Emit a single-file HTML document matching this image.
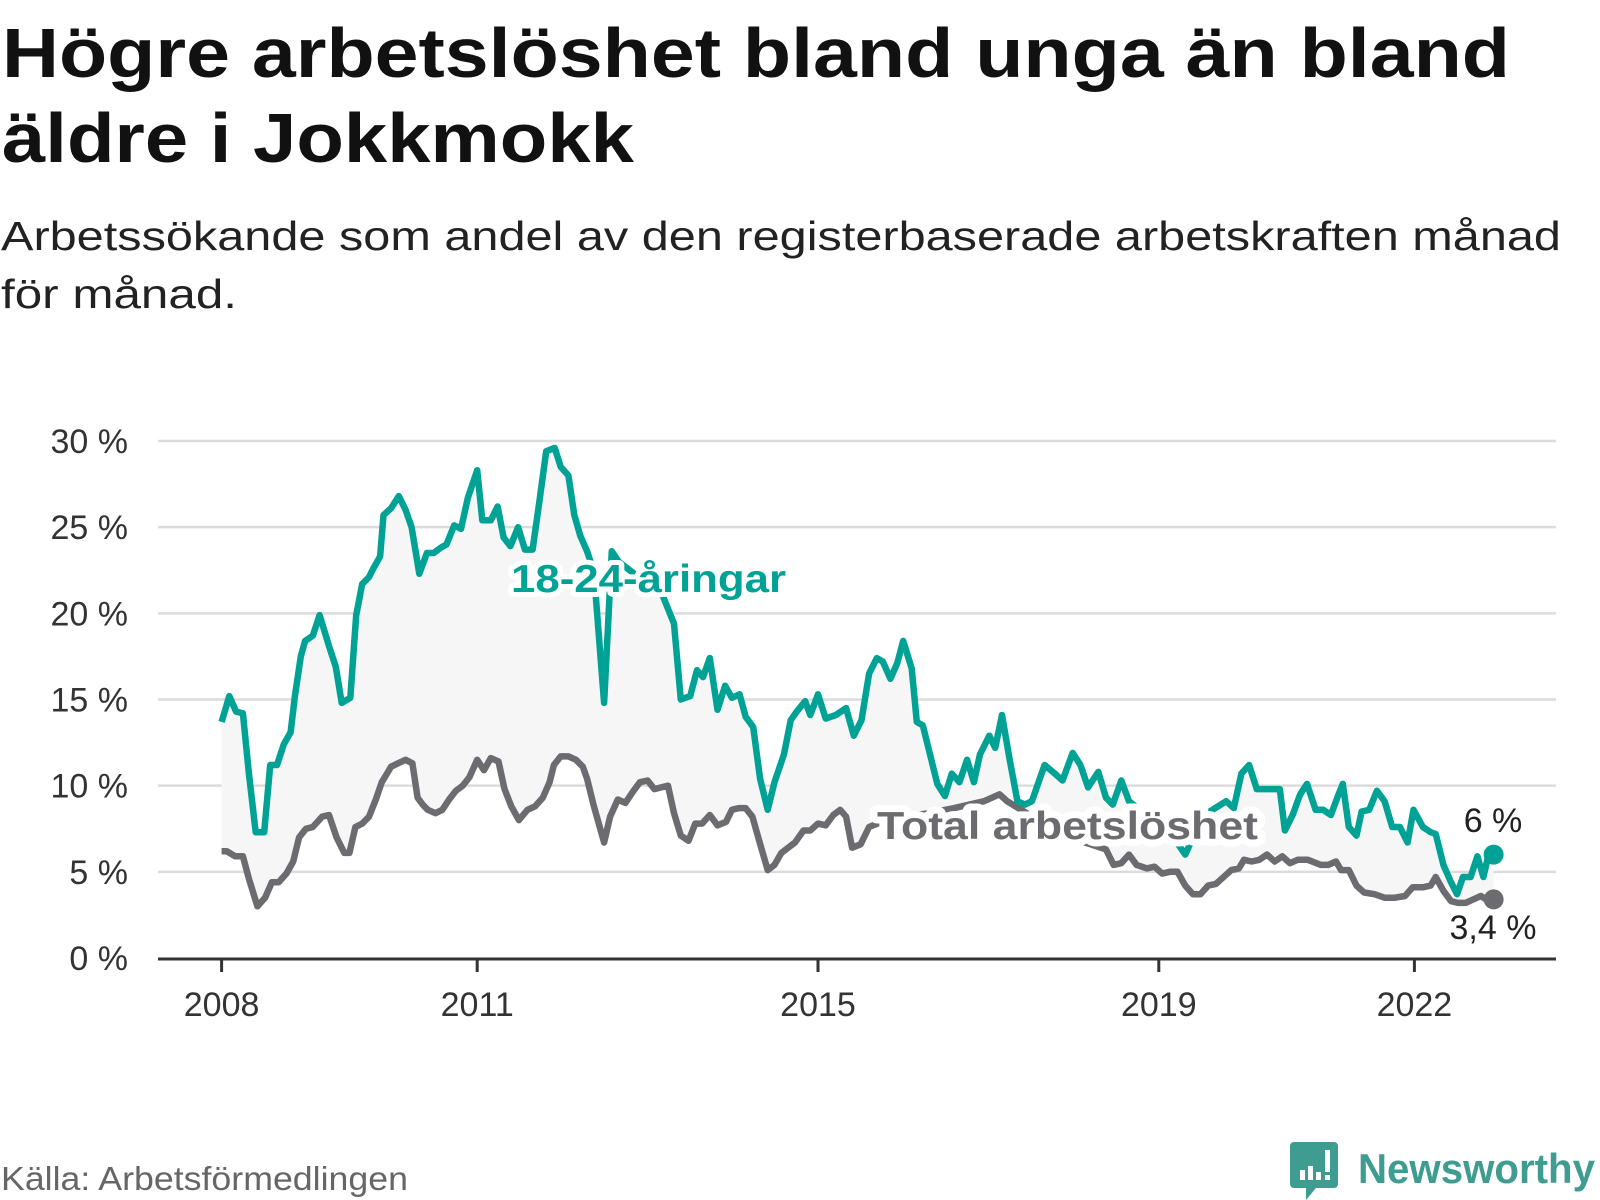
<!DOCTYPE html>
<html><head><meta charset="utf-8">
<style>
html,body{margin:0;padding:0;background:#fff;}
svg{display:block;font-family:"Liberation Sans",sans-serif;}
</style></head>
<body>
<svg id="chart" width="1600" height="1200" viewBox="0 0 1600 1200" xmlns="http://www.w3.org/2000/svg">
  <text x="2" y="77" font-size="70" font-weight="bold" fill="#111" textLength="1508" lengthAdjust="spacingAndGlyphs">Högre arbetslöshet bland unga än bland</text>
  <text x="2" y="162" font-size="70" font-weight="bold" fill="#111" textLength="632" lengthAdjust="spacingAndGlyphs">äldre i Jokkmokk</text>
  <text x="1" y="250" font-size="41" fill="#222" textLength="1560" lengthAdjust="spacingAndGlyphs">Arbetssökande som andel av den registerbaserade arbetskraften månad</text>
  <text x="1" y="308" font-size="41" fill="#222" textLength="236" lengthAdjust="spacingAndGlyphs">för månad.</text>
  <g id="grid"></g>
  <g id="yticks"></g>
  <g id="plot"></g>
  <g id="xaxis"></g>
  <g id="labels"></g>
  <text x="1" y="1190" font-size="33" fill="#666" textLength="407" lengthAdjust="spacingAndGlyphs">Källa: Arbetsförmedlingen</text>
  <g>
    <path d="M1294 1142 h40 a4 4 0 0 1 4 4 v38 a4 4 0 0 1 -4 4 h-18 l-10 12 v-12 h-12 a4 4 0 0 1 -4 -4 v-38 a4 4 0 0 1 4 -4z" fill="#3f9c90"/>
    <rect x="1300" y="1170" width="5" height="10" fill="#fff"/>
    <rect x="1308" y="1166" width="5" height="14" fill="#fff"/>
    <rect x="1316" y="1172" width="5" height="8" fill="#fff"/>
    <rect x="1325" y="1150" width="5" height="22" fill="#fff"/>
    <rect x="1325" y="1175" width="5" height="5" fill="#fff"/>
    <text x="1358" y="1183" font-size="42" font-weight="bold" fill="#3f9c90" textLength="237" lengthAdjust="spacingAndGlyphs">Newsworthy</text>
  </g>
</svg>
<script>
const yTicks = [0, 5, 10, 15, 20, 25, 30];
const yTickLabels = ["0 %", "5 %", "10 %", "15 %", "20 %", "25 %", "30 %"];
const xTicks = [2008, 2011, 2015, 2019, 2022];
const xTickLabels = ["2008", "2011", "2015", "2019", "2022"];

const youthTime = [2008.00,2008.09,2008.17,2008.25,2008.32,2008.40,2008.50,2008.57,2008.65,2008.73,2008.81,2008.86,2008.93,2008.98,2009.07,2009.15,2009.26,2009.34,2009.41,2009.51,2009.58,2009.65,2009.73,2009.78,2009.86,2009.90,2009.99,2010.08,2010.16,2010.23,2010.32,2010.41,2010.49,2010.57,2010.64,2010.73,2010.81,2010.89,2011.00,2011.06,2011.16,2011.24,2011.31,2011.39,2011.48,2011.56,2011.65,2011.73,2011.81,2011.91,2011.98,2012.07,2012.14,2012.21,2012.29,2012.37,2012.49,2012.58,2012.66,2012.92,2013.18,2013.31,2013.39,2013.50,2013.58,2013.65,2013.73,2013.82,2013.91,2013.99,2014.08,2014.15,2014.24,2014.32,2014.41,2014.49,2014.60,2014.68,2014.75,2014.85,2014.91,2015.00,2015.09,2015.21,2015.33,2015.42,2015.51,2015.60,2015.69,2015.76,2015.85,2015.93,2016.00,2016.10,2016.16,2016.23,2016.32,2016.40,2016.49,2016.57,2016.66,2016.75,2016.83,2016.90,2017.01,2017.08,2017.16,2017.25,2017.34,2017.43,2017.51,2017.66,2017.78,2017.87,2017.99,2018.08,2018.17,2018.29,2018.38,2018.46,2018.56,2018.65,2018.80,2019.00,2019.20,2019.31,2019.45,2019.60,2019.79,2019.88,2019.97,2020.06,2020.15,2020.24,2020.42,2020.48,2020.57,2020.66,2020.74,2020.84,2020.93,2021.02,2021.11,2021.16,2021.23,2021.32,2021.38,2021.47,2021.56,2021.65,2021.74,2021.83,2021.92,2021.99,2022.10,2022.19,2022.25,2022.34,2022.43,2022.50,2022.57,2022.66,2022.74,2022.81,2022.87,2022.93];
const youthValues = [13.7,15.2,14.3,14.2,10.7,7.3,7.3,11.2,11.2,12.4,13.1,15.2,17.5,18.4,18.7,19.9,18.1,16.9,14.8,15.1,19.9,21.7,22.1,22.6,23.3,25.7,26.1,26.8,26.0,25.0,22.3,23.5,23.5,23.8,24.0,25.1,24.9,26.7,28.3,25.4,25.4,26.2,24.4,23.9,25.0,23.7,23.7,26.5,29.4,29.6,28.5,28.0,25.7,24.5,23.6,22.4,14.8,23.6,23.0,22.0,21.0,19.4,15.0,15.2,16.7,16.3,17.4,14.4,15.8,15.1,15.3,14.0,13.4,10.4,8.6,10.2,11.8,13.8,14.3,14.9,14.1,15.3,13.9,14.1,14.5,12.9,13.8,16.5,17.4,17.2,16.2,17.1,18.4,16.8,13.7,13.5,11.7,10.1,9.4,10.7,10.2,11.5,10.2,11.8,12.9,12.2,14.1,11.5,9.1,8.9,9.1,11.2,10.7,10.3,11.9,11.2,9.9,10.8,9.3,8.9,10.3,9.1,8.5,7.8,6.8,6.0,7.5,8.5,9.1,8.7,10.7,11.2,9.8,9.8,9.8,7.4,8.3,9.5,10.1,8.6,8.6,8.3,9.5,10.1,7.6,7.1,8.5,8.6,9.7,9.1,7.6,7.6,6.7,8.6,7.6,7.3,7.2,5.4,4.4,3.7,4.7,4.7,5.9,4.7,6.0,6.0];

const totalTime = [2008.00,2008.06,2008.16,2008.25,2008.32,2008.42,2008.51,2008.59,2008.67,2008.76,2008.84,2008.91,2008.99,2009.07,2009.18,2009.26,2009.35,2009.44,2009.50,2009.57,2009.65,2009.73,2009.81,2009.88,2009.99,2010.07,2010.16,2010.24,2010.30,2010.36,2010.42,2010.51,2010.59,2010.67,2010.75,2010.83,2010.91,2011.00,2011.08,2011.16,2011.25,2011.32,2011.40,2011.49,2011.59,2011.68,2011.77,2011.85,2011.90,2011.98,2012.07,2012.16,2012.24,2012.29,2012.37,2012.49,2012.56,2012.65,2012.74,2012.82,2012.91,2013.00,2013.08,2013.16,2013.24,2013.31,2013.39,2013.48,2013.56,2013.64,2013.73,2013.82,2013.92,2013.99,2014.07,2014.15,2014.23,2014.31,2014.41,2014.49,2014.57,2014.65,2014.73,2014.83,2014.91,2015.00,2015.09,2015.18,2015.26,2015.33,2015.40,2015.50,2015.60,2015.80,2016.00,2016.30,2016.60,2016.95,2017.13,2017.22,2017.45,2017.70,2017.95,2018.20,2018.38,2018.47,2018.56,2018.65,2018.74,2018.86,2018.95,2019.04,2019.13,2019.22,2019.31,2019.40,2019.49,2019.58,2019.67,2019.76,2019.85,2019.94,2020.00,2020.09,2020.18,2020.27,2020.36,2020.45,2020.54,2020.63,2020.75,2020.90,2020.99,2021.08,2021.14,2021.23,2021.32,2021.41,2021.53,2021.65,2021.77,2021.89,2021.98,2022.10,2022.19,2022.25,2022.34,2022.43,2022.51,2022.60,2022.69,2022.78,2022.84,2022.93];
const totalValues = [6.2,6.2,5.9,5.9,4.6,3.0,3.5,4.4,4.4,4.9,5.6,7.0,7.5,7.6,8.2,8.3,7.0,6.1,6.1,7.6,7.8,8.2,9.2,10.2,11.1,11.3,11.5,11.3,9.3,8.9,8.6,8.4,8.6,9.2,9.7,10.0,10.5,11.5,10.9,11.6,11.4,9.8,8.8,8.0,8.6,8.8,9.3,10.2,11.2,11.7,11.7,11.5,11.1,10.4,8.8,6.7,8.2,9.2,9.0,9.6,10.2,10.3,9.8,9.9,10.0,8.4,7.1,6.8,7.8,7.8,8.3,7.7,7.9,8.6,8.7,8.7,8.2,6.8,5.1,5.4,6.1,6.4,6.7,7.4,7.4,7.8,7.7,8.3,8.6,8.2,6.4,6.6,7.6,8.0,8.2,8.4,8.7,9.1,9.5,9.1,8.4,7.6,7.0,6.6,6.3,5.4,5.5,6.0,5.4,5.2,5.3,4.9,5.0,5.0,4.2,3.7,3.7,4.2,4.3,4.7,5.1,5.2,5.7,5.6,5.7,6.0,5.6,5.9,5.5,5.7,5.7,5.4,5.4,5.6,5.1,5.1,4.2,3.8,3.7,3.5,3.5,3.6,4.1,4.1,4.2,4.7,3.9,3.3,3.2,3.2,3.4,3.6,3.4,3.4];

const endLabels = ["6 %", "3,4 %"];

const NS = "http://www.w3.org/2000/svg";
const X0 = 158, X1 = 1556;
function xScale(t) { return 221.6 + (t - 2008) * 85.2; }
function yScale(v) { return 958 - v * (517 / 30); }
function mk(tag, attrs, parent) {
  const e = document.createElementNS(NS, tag);
  for (const k in attrs) e.setAttribute(k, attrs[k]);
  parent.appendChild(e);
  return e;
}
const grid = document.getElementById('grid');
const yt = document.getElementById('yticks');
yTicks.forEach((v, i) => {
  if (v > 0) {
    const l = mk('line', {x1: X0, x2: X1, y1: yScale(v), y2: yScale(v), stroke: '#dcdcdc', 'stroke-width': 2.5}, grid);
    
    
  }
  const t = mk('text', {x: 128, y: yScale(v) + 12, 'font-size': 34, fill: '#333', 'text-anchor': 'end'}, yt);
  t.textContent = yTickLabels[i];
  
  
});

const plot = document.getElementById('plot');
function pts(ts, vs) { return ts.map((t, i) => xScale(t).toFixed(1) + ',' + yScale(vs[i]).toFixed(1)); }
const up = pts(youthTime, youthValues);
const dn = pts(totalTime, totalValues).reverse();
const area = mk('polygon', {points: up.concat(dn).join(' '), fill: '#f6f6f7'}, plot);



const lt = mk('polyline', {points: pts(totalTime, totalValues).join(' '), fill: 'none', stroke: '#6c6b70', 'stroke-width': 6.5, 'stroke-linejoin': 'round'}, plot);


const ly = mk('polyline', {points: up.join(' '), fill: 'none', stroke: '#00a295', 'stroke-width': 6.5, 'stroke-linejoin': 'round'}, plot);



const nY = youthTime.length - 1, nT = totalTime.length - 1;
const dY = mk('circle', {cx: xScale(youthTime[nY]), cy: yScale(youthValues[nY]), r: 10, fill: '#00a295'}, plot);


const dT = mk('circle', {cx: xScale(totalTime[nT]), cy: yScale(totalValues[nT]), r: 10, fill: '#6c6b70'}, plot);



const xa = document.getElementById('xaxis');
const ax = mk('line', {x1: X0, x2: X1, y1: 959, y2: 959, stroke: '#333', 'stroke-width': 3}, xa);


xTicks.forEach((yr, i) => {
  const tk = mk('line', {x1: xScale(yr), x2: xScale(yr), y1: 959, y2: 972, stroke: '#333', 'stroke-width': 3}, xa);
  
  
  const tx = mk('text', {x: xScale(yr), y: 1016, 'font-size': 34, fill: '#333', 'text-anchor': 'middle'}, xa);
  tx.textContent = xTickLabels[i];
  
  
});

const lab = document.getElementById('labels');
const l1 = mk('text', {x: 511, y: 592, 'font-size': 39, 'font-weight': 'bold', fill: '#00a295', stroke: '#fff', 'stroke-width': 10, 'paint-order': 'stroke', 'stroke-linejoin': 'round', textLength: 275, lengthAdjust: 'spacingAndGlyphs'}, lab);
l1.textContent = '18-24-åringar';


const l2 = mk('text', {x: 877, y: 839, 'font-size': 39, 'font-weight': 'bold', fill: '#6c6b70', stroke: '#fff', 'stroke-width': 14, 'paint-order': 'stroke', 'stroke-linejoin': 'round', textLength: 381, lengthAdjust: 'spacingAndGlyphs'}, lab);
l2.textContent = 'Total arbetslöshet';


const e1 = mk('text', {x: 1493, y: 832, 'font-size': 34, fill: '#222', 'text-anchor': 'middle'}, lab);
e1.textContent = endLabels[0];


const e2 = mk('text', {x: 1493, y: 939, 'font-size': 34, fill: '#222', 'text-anchor': 'middle'}, lab);
e2.textContent = endLabels[1];


</script>
</body></html>
